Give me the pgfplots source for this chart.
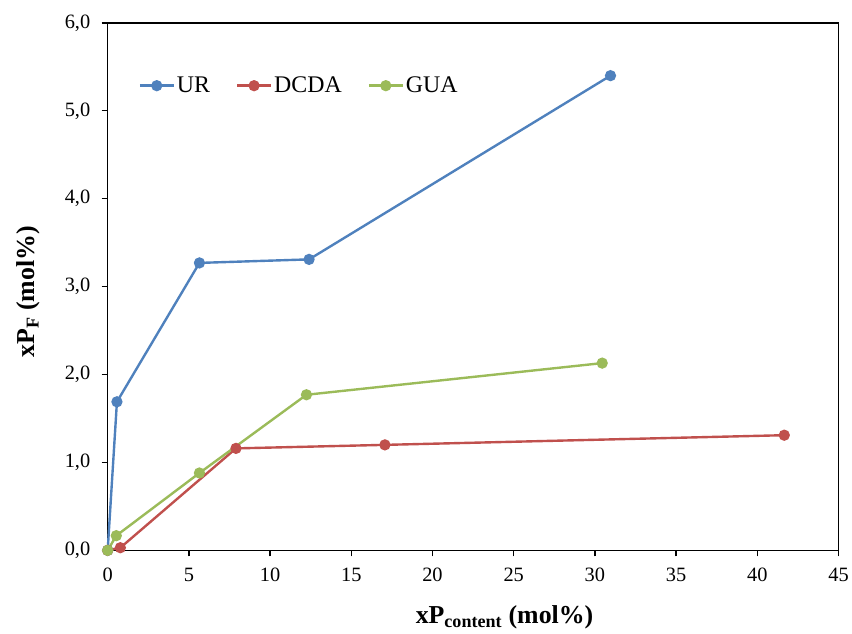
\documentclass[border=0pt]{standalone}
\usepackage{fontspec}
\setmainfont{Liberation Serif}
\usepackage{pgfplots}
\pgfplotsset{compat=1.18}
\definecolor{urblue}{HTML}{4F81BD}
\definecolor{dcdared}{HTML}{C0504D}
\definecolor{guagreen}{HTML}{9BBB59}

\begin{document}
\begin{tikzpicture}
\begin{axis}[
  scale only axis, width=733bp, height=529bp,
  xmin=0, xmax=45, ymin=0, ymax=6,
  xtick={0,5,...,45}, ytick={0,1,...,6},
  xtick pos=left, ytick pos=left, tick align=outside,
  major tick length=6bp,
  axis line style={line width=1.3bp}, tick style={line width=1.3bp,black},
  /pgf/number format/assume math mode=true,
  tick label style={font=\fontsize{20.5}{24}\selectfont},
  x tick label style={yshift=-8bp},
  y tick label style={xshift=-8bp,/pgf/number format/.cd,fixed,fixed zerofill,precision=1,use comma},
  xlabel={\textbf{xP\textsubscript{content} (mol\%)}},
  ylabel={\textbf{xP\textsubscript{F} (mol\%)}},
  label style={font=\fontsize{26}{30}\selectfont},
  xlabel style={at={(axis description cs:0.543,-0.127)},anchor=center},
  ylabel style={at={(axis description cs:-0.108,0.49)},anchor=center},
  legend style={draw=none,fill=none,at={(0.038,0.881)},anchor=west,
    font=\fontsize{24}{28}\selectfont,legend columns=3,
    /tikz/every even column/.append style={column sep=24bp}},
  legend image code/.code={\draw[mark repeat=2,mark phase=2] plot coordinates {(0bp,0bp)(17bp,0bp)(34bp,0bp)};},
  every axis plot/.append style={line width=2.4bp,mark=*,mark size=4.4bp,mark options={solid}},
  clip=false,
]
\addplot[color=urblue] coordinates {(0,0) (0.57,1.69) (5.65,3.27) (12.4,3.31) (30.96,5.40)};
\addlegendentry{UR}
\addplot[color=dcdared] coordinates {(0,0) (0.78,0.03) (7.9,1.16) (17.07,1.20) (41.66,1.31)};
\addlegendentry{DCDA}
\addplot[color=guagreen] coordinates {(0,0) (0.53,0.167) (5.65,0.88) (12.24,1.77) (30.45,2.13)};
\addlegendentry{GUA}
\coordinate (O) at (rel axis cs:0,0);
\coordinate (T) at (rel axis cs:1,1);
\end{axis}
\path ([shift={(-108bp,-83bp)}]O) rectangle ([shift={(11bp,23bp)}]T);
\end{tikzpicture}
\end{document}
